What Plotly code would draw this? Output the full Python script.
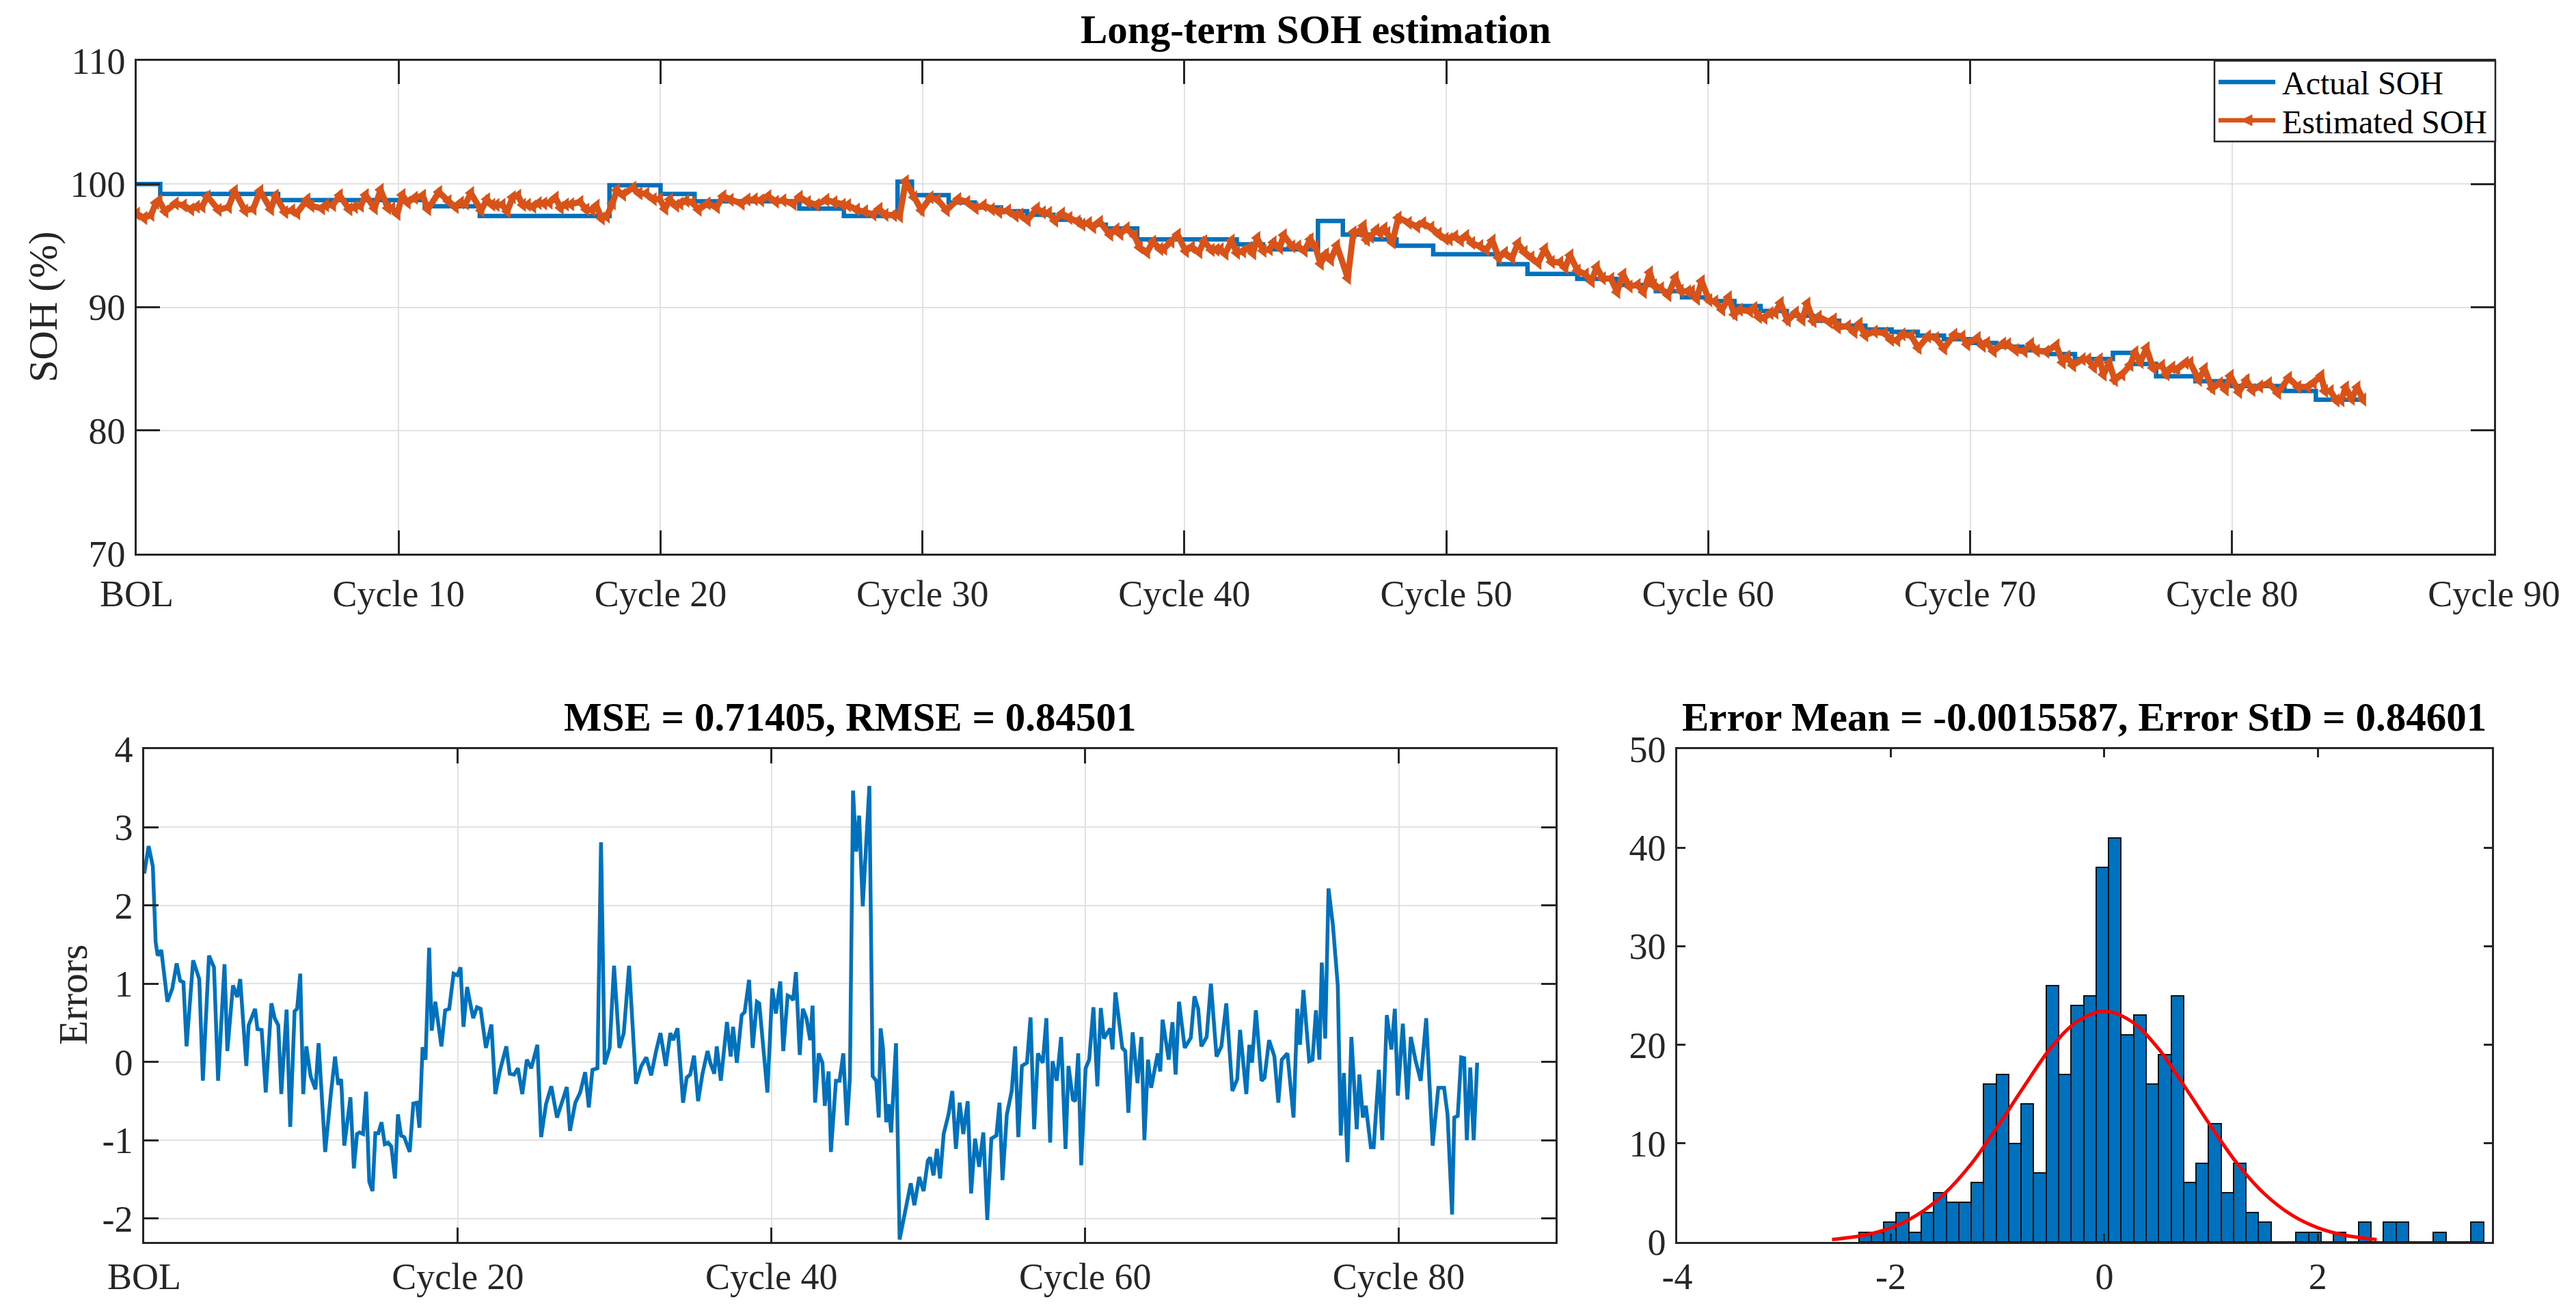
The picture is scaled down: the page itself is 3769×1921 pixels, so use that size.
import numpy as np
import plotly.graph_objects as go

# ---------------- data ----------------
# Prediction error (actual - estimated), x in cycles
err_cycle = [0.00, 0.28, 0.55, 0.73, 0.86, 1.09, 1.48, 1.79, 2.07, 2.29, 2.50, 2.70, 3.12, 3.51, 3.74, 4.13, 4.45, 4.71,
             5.12, 5.30, 5.66, 5.93, 6.12, 6.51, 6.66, 7.07, 7.22, 7.49, 7.75, 8.11, 8.32, 8.55, 8.74, 9.08, 9.31, 9.59,
             9.75, 9.95, 10.14, 10.34, 10.61, 10.92, 11.12, 11.54, 11.90, 12.17, 12.37, 12.56, 12.76, 13.15, 13.37,
             13.57, 13.73, 13.96, 14.15, 14.35, 14.56, 14.74, 14.93, 15.13, 15.34, 15.55, 15.76, 15.99, 16.18, 16.38,
             16.58, 16.93, 17.16, 17.39, 17.55, 17.75, 17.94, 18.17, 18.33, 18.56, 18.95, 19.19, 19.45, 19.73, 19.97,
             20.17, 20.36, 20.59, 20.75, 20.98, 21.22, 21.45, 21.79, 22.14, 22.39, 22.67,
             23.09, 23.31, 23.59, 23.83, 24.11, 24.40, 24.68, 25.07, 25.31, 25.62, 25.96, 26.32, 26.63, 26.95, 27.15,
             27.49, 27.80, 28.12, 28.35, 28.58, 28.90, 29.13, 29.36, 29.68, 29.96, 30.30, 30.58, 30.92, 31.36, 31.70,
             32.02, 32.33, 32.64, 32.92, 33.26, 33.55, 33.73, 34.01, 34.36, 34.59, 34.82, 35.06, 35.32, 35.60, 35.92,
             36.10, 36.35, 36.51, 36.77, 37.16, 37.40, 37.55, 37.79, 38.10, 38.29, 38.57, 38.80, 39.07, 39.22, 39.50,
             39.74, 40.05, 40.28, 40.56, 40.75, 41.03, 41.22, 41.38, 41.56, 41.80, 42.00, 42.23, 42.47, 42.62, 42.78,
             43.01, 43.25, 43.40, 43.64, 43.79, 44.11, 44.34, 44.58, 44.81, 45.00, 45.20, 45.40, 45.59, 45.82, 46.24,
             46.45, 46.68, 46.84, 46.96,
             47.11, 47.32, 47.47, 47.63, 47.74, 47.94, 48.17, 48.56, 48.88, 49.11, 49.42, 49.70, 49.97, 50.12, 50.33,
             50.55, 50.75, 50.98, 51.29, 51.53, 51.76, 52.00, 52.23, 52.51, 52.73, 52.98, 53.24, 53.51, 53.76, 54.02,
             54.34, 54.54, 54.73, 55.01, 55.32, 55.54, 55.74, 55.97, 56.29, 56.52, 56.75, 56.99, 57.30, 57.53, 57.77,
             57.92, 58.19, 58.47, 58.75, 58.94, 59.22, 59.37, 59.56, 59.75, 60.03, 60.26, 60.53, 60.78, 61.00, 61.20,
             61.59, 61.75, 61.93, 62.14, 62.37, 62.56, 62.76, 63.03, 63.34, 63.59, 63.78, 64.01, 64.21, 64.63, 64.79,
             64.94, 65.33, 65.57, 65.77, 65.99, 66.35, 66.74, 66.97, 67.21, 67.41, 67.75, 68.02, 68.38, 68.69, 69.00,
             69.39, 69.70,
             69.88, 70.28, 70.47, 70.64, 70.89, 71.25, 71.44, 71.73, 72.07, 72.32, 72.54, 72.90, 73.29, 73.53, 73.70,
             73.92, 74.29, 74.50, 74.72, 74.94, 75.09, 75.31, 75.52, 75.80, 76.11, 76.30, 76.50, 76.73, 76.98, 77.32,
             77.49, 77.71, 77.90, 78.22, 78.40, 78.73, 78.95, 79.24, 79.53, 79.75, 79.94, 80.26, 80.55, 80.77, 81.06,
             81.40, 81.75, 82.16, 82.52, 82.89, 83.11, 83.40, 83.54, 83.76, 83.98, 84.17, 84.34, 84.56, 84.78, 85.00]

err_value = [2.41, 2.76, 2.50, 1.53, 1.36, 1.43, 0.77, 0.94, 1.26, 1.04, 1.02, 0.20, 1.30, 1.06, -0.24, 1.36, 1.21, -0.24,
             1.25, 0.14, 0.98, 0.83, 1.06, -0.05, 0.47, 0.68, 0.42, 0.41, -0.39, 0.75, 0.56, 0.47, -0.41, 0.67, -0.83, 0.65,
             0.68, 1.13, -0.41, 0.20, -0.18, -0.35, 0.24, -1.15, -0.41, 0.07, -0.29, -0.22, -1.07, -0.45, -1.36,
             -0.92, -0.90, -0.92, -0.38, -1.53, -1.65, -0.91, -0.91, -0.77, -1.05, -1.03, -1.08, -1.49, -0.67, -0.94,
             -0.96, -1.15, -0.53, -0.52, -0.84, 0.19, 0.03, 1.46, 0.40, 0.77, 0.20, 0.66, 0.68, 1.13, 1.11,
             1.21, 0.45, 0.96, 0.79, 0.56, 0.70, 0.68, 0.18, 0.48, -0.41, -0.12,
             0.20, -0.15, -0.16, -0.08, -0.41, 0.03, -0.08, 0.22, -0.96, -0.54, -0.31, -0.71, -0.52, -0.32, -0.88,
             -0.52, -0.39, -0.13, -0.58, -0.10, -0.08, 2.81, -0.03, 0.18, 1.23, 0.18, 0.37, 1.23, -0.28, -0.05,
             0.06, -0.17, 0.14, 0.37, -0.05, 0.37, 0.28, 0.43, -0.52, -0.20, -0.16, 0.08, -0.50, -0.15, 0.14,
             -0.01, -0.15, 0.20, -0.24, 0.51, 0.07, 0.45, -0.01, 0.60, 0.64, 1.05, 0.18, 0.77, 0.75, 0.18,
             -0.39, 0.94, 0.62, 1.03, 0.14, 0.85, 0.83, 0.79, 1.15, 0.09, 0.68, 0.56, 0.28, 0.72, -0.52,
             0.11, -0.01, -0.56, -0.12, -1.15, -0.24, -0.24, 0.11, -0.81, -0.20, 3.47, 2.69, 3.15, 1.99, 3.53,
             -0.18, -0.24, -0.71, 0.43,
             0.18, -0.77, -0.54, -0.90, -0.54, 0.24, -2.27, -1.85, -1.55, -1.83, -1.47, -1.65, -1.26, -1.22, -1.45,
             -1.11, -1.49, -0.92, -0.67, -0.37, -1.11, -0.52, -0.92, -0.50, -1.68, -0.98, -1.34, -0.90, -2.02, -0.98,
             -0.94, -0.52, -1.51, -0.67, -0.37, 0.20, -0.96, -0.05, -0.01, 0.57, -0.86, 0.11, -0.01, 0.56, -1.03,
             0.01, -0.24, 0.32, -1.11, -0.05, -0.48, -0.50, 0.11, -1.32, -0.08, 0.03, 0.70, -0.31, 0.69, 0.30,
             0.43, 0.16, 0.89, 0.56, 0.18, 0.14, -0.65, 0.38, -0.27, 0.32, -1.00, 0.03, -0.33, 0.11, -0.12,
             0.54, 0.03, 0.51, -0.16, 0.77, 0.18, 0.31, 0.84, 0.68, 0.20, 0.32, 1.00, 0.07, 0.20, 0.75,
             -0.37, -0.22,
             0.41, -0.41, 0.22, -0.01, 0.66, -0.24, -0.20, 0.28, 0.07, -0.52, 0.03, 0.11, -0.71, 0.68, 0.22,
             0.92, 0.01, 0.03, 0.66, 0.03, 1.27, 0.30, 2.22, 1.75, 0.98, -0.94, -0.14, -1.28, 0.32, -0.86,
             -0.16, -0.71, -0.56, -1.09, -1.09, -0.10, -1.00, 0.60, 0.16, 0.68, -0.43, 0.49, -0.48, 0.32, 0.03,
             -0.24, 0.56, -1.07, -0.33, -0.33, -0.67, -1.95, -0.71, -0.69, 0.06, 0.05, -1.00, -0.07, -1.00, -0.01]

# Actual SOH: step levels and the cycle at which each level starts
act_start = [0.0, 0.9, 5.4, 11.0, 13.1, 18.05, 20.0, 21.3, 25.3, 27.0, 29.05, 29.6, 31.0, 32.0, 33.0, 34.0, 35.0,
             36.0, 37.0, 38.2, 42.0, 43.0, 45.1, 46.05, 47.2, 48.1, 49.5, 52.0, 53.1, 55.0, 56.5, 58.0, 59.0, 60.0,
             61.0, 62.0, 63.0, 64.0, 65.0, 66.0, 67.0, 68.0, 69.0, 70.0, 71.0, 72.0, 73.0, 74.0, 75.45, 76.2, 77.1,
             78.6, 80.0, 82.0, 83.2]
act_level = [100.0, 99.2, 98.7, 98.2, 97.4, 99.9, 99.2, 98.6, 98.0, 97.4, 100.2, 99.1, 98.5, 98.1, 97.8, 97.5, 97.1,
             96.7, 96.4, 95.5, 95.1, 94.7, 97.0, 95.9, 95.5, 95.0, 94.3, 93.5, 92.7, 92.3, 91.8, 91.3, 90.8, 90.5,
             90.1, 89.7, 89.3, 88.9, 88.5, 88.2, 88.0, 87.7, 87.4, 87.1, 86.8, 86.5, 86.2, 85.8, 86.3, 85.4, 84.4,
             84.0, 83.6, 83.2, 82.5]
act_end_cycle = 85.0

# Histogram of errors (50 bins)
hist_first_edge = -2.30
hist_bin_width = 0.117
hist_counts = [1, 1, 2, 3, 1, 3, 5, 4, 4, 6, 16, 17, 10, 14, 7, 26, 17, 24, 25, 38, 41, 21, 23, 16, 19,
               25, 6, 8, 12, 5, 8, 3, 2, 0, 0, 1, 1, 0, 1, 0, 2, 0, 2, 2, 0, 0, 1, 0, 0, 2]

# Fitted normal curve
fit_x = [-2.55, -2.25, -2.0, -1.75, -1.5, -1.25, -1.0, -0.75, -0.5, -0.25, 0.0,
         0.25, 0.5, 0.75, 1.0, 1.25, 1.5, 1.75, 2.0, 2.25, 2.55]
fit_y = [0.25, 0.68, 1.43, 2.76, 4.87, 7.87, 11.7, 15.8, 19.7, 22.4, 23.4,
         22.4, 19.7, 15.8, 11.7, 7.87, 4.87, 2.76, 1.43, 0.68, 0.25]

top_tickvals = [0, 10, 20, 30, 40, 50, 60, 70, 80, 90]
top_ticktext = ["BOL", "Cycle 10", "Cycle 20", "Cycle 30", "Cycle 40", "Cycle 50",
                "Cycle 60", "Cycle 70", "Cycle 80", "Cycle 90"]
err_tickvals = [0, 20, 40, 60, 80]
err_ticktext = ["BOL", "Cycle 20", "Cycle 40", "Cycle 60", "Cycle 80"]
err_ytickvals = [-2, -1, 0, 1, 2, 3, 4]
err_yticktext = ["-2", "-1", "0", "1", "2", "3", "4"]
hist_xtickvals = [-4, -2, 0, 2]
hist_xticktext = ["-4", "-2", "0", "2"]

legend_names = ["Actual SOH", "Estimated SOH"]
title_top = "Long-term SOH estimation"
title_err = "MSE = 0.71405, RMSE = 0.84501"
title_hist = "Error Mean = -0.0015587, Error StD = 0.84601"

# ---------------- derived series ----------------
err_c = np.array(err_cycle)
err_v = np.array(err_value)
idx = np.searchsorted(np.array(act_start), err_c, side="right") - 1
act_at_err = np.array(act_level)[idx]
est_soh = act_at_err - err_v

act_x = list(act_start) + [act_end_cycle]
act_y = list(act_level) + [act_level[-1]]

centers = hist_first_edge + hist_bin_width * (np.arange(len(hist_counts)) + 0.5)

# ---------------- figure ----------------
W, H = 3769, 1921
FONT = "Liberation Serif"
BLUE = "#0072BD"
ORANGE = "#D95319"
AX = "#262626"
GRID = "#e2e2e2"


def px(xp):
    return xp / W


def py(yp):
    return 1 - yp / H


fig = go.Figure()

fig.add_trace(go.Scatter(x=act_x, y=act_y, mode="lines", line=dict(color=BLUE, width=6.5, shape="hv"),
                         name=legend_names[0], showlegend=False, xaxis="x", yaxis="y"))
fig.add_trace(go.Scatter(x=err_c, y=est_soh, mode="lines+markers",
                         line=dict(color=ORANGE, width=9),
                         marker=dict(symbol="triangle-left", size=18, color=ORANGE, line=dict(width=0)),
                         name=legend_names[1], showlegend=False, xaxis="x", yaxis="y"))

fig.add_trace(go.Scatter(x=err_c, y=err_v, mode="lines", line=dict(color=BLUE, width=5.5),
                         showlegend=False, xaxis="x2", yaxis="y2"))

fig.add_trace(go.Bar(x=centers, y=hist_counts, width=hist_bin_width,
                     marker=dict(color=BLUE, line=dict(color="#111111", width=2)),
                     showlegend=False, xaxis="x3", yaxis="y3"))
fig.add_trace(go.Scatter(x=fit_x, y=fit_y, mode="lines", line=dict(color="#FF0000", width=5, shape="spline"),
                         showlegend=False, xaxis="x3", yaxis="y3"))

common = dict(showline=True, linecolor=AX, linewidth=2.5, mirror="allticks", ticks="inside",
              tickcolor=AX, tickwidth=2.5, zeroline=False, automargin=False,
              tickfont=dict(family=FONT, size=54, color=AX))

top_dom_x = [px(200), px(3649)]
top_dom_y = [py(810), py(89)]
bl_dom_x = [px(211), px(2276)]
bot_dom_y = [py(1817), py(1096)]
h_dom_x = [px(2454), px(3646)]

fig.update_layout(
    width=W, height=H, margin=dict(l=0, r=0, t=0, b=0, pad=0, autoexpand=False),
    paper_bgcolor="white", plot_bgcolor="white",
    showlegend=False,
    bargap=0,
    xaxis=dict(domain=top_dom_x, anchor="y", range=[0, 90], tickvals=top_tickvals, ticktext=top_ticktext,
               ticklen=34, showgrid=True, gridcolor=GRID, gridwidth=2, ticklabelstandoff=9, **common),
    yaxis=dict(domain=top_dom_y, anchor="x", range=[70, 110], tickvals=[70, 80, 90, 100, 110],
               ticklen=34, showgrid=True, gridcolor=GRID, gridwidth=2, ticklabelstandoff=3, **common),
    xaxis2=dict(domain=bl_dom_x, anchor="y2", range=[0, 90], tickvals=err_tickvals, ticktext=err_ticktext,
                ticklen=21, showgrid=True, gridcolor=GRID, gridwidth=2, ticklabelstandoff=1, **common),
    yaxis2=dict(domain=bot_dom_y, anchor="x2", range=[-2.3, 4], tickvals=err_ytickvals, ticktext=err_yticktext,
                ticklen=21, showgrid=True, gridcolor=GRID, gridwidth=2, ticklabelstandoff=3, **common),
    xaxis3=dict(domain=h_dom_x, anchor="y3", range=[-4, 3.63], tickvals=hist_xtickvals, ticktext=hist_xticktext,
                ticklen=12, showgrid=False, ticklabelstandoff=1, **common),
    yaxis3=dict(domain=bot_dom_y, anchor="x3", range=[0, 50], tickvals=[0, 10, 20, 30, 40, 50],
                ticklen=12, showgrid=False, ticklabelstandoff=3, **common),
)

# ---- legend box (drawn like MATLAB's legend) ----
fig.add_shape(type="rect", xref="paper", yref="paper", x0=px(3240), x1=px(3651), y0=py(207), y1=py(89),
              fillcolor="white", line=dict(color=AX, width=2.5), layer="above")
fig.add_shape(type="line", xref="paper", yref="paper", x0=px(3246), x1=px(3329), y0=py(120), y1=py(120),
              line=dict(color=BLUE, width=6.5), layer="above")
fig.add_shape(type="line", xref="paper", yref="paper", x0=px(3246), x1=px(3329), y0=py(176), y1=py(176),
              line=dict(color=ORANGE, width=6.5), layer="above")
tri = "M {:.6f} {:.6f} L {:.6f} {:.6f} L {:.6f} {:.6f} Z".format(px(3279), py(176), px(3295), py(168),
                                                                  px(3295), py(184))
fig.add_shape(type="path", xref="paper", yref="paper", path=tri, fillcolor=ORANGE,
              line=dict(color=ORANGE, width=1), layer="above")
leg_font = dict(family=FONT, size=48, color="#000000")
fig.add_annotation(text=legend_names[0], x=px(3337), y=py(121), xref="paper", yref="paper",
                   xanchor="left", yanchor="middle", showarrow=False, font=leg_font)
fig.add_annotation(text=legend_names[1], x=px(3337), y=py(178), xref="paper", yref="paper",
                   xanchor="left", yanchor="middle", showarrow=False, font=leg_font)

ann_font = dict(family=FONT, size=59, color="#000000")
fig.add_annotation(text="<b>" + title_top + "</b>", x=(top_dom_x[0] + top_dom_x[1]) / 2, y=py(43),
                   xref="paper", yref="paper", xanchor="center", yanchor="middle", showarrow=False, font=ann_font)
fig.add_annotation(text="<b>" + title_err + "</b>", x=(bl_dom_x[0] + bl_dom_x[1]) / 2, y=py(1049),
                   xref="paper", yref="paper", xanchor="center", yanchor="middle", showarrow=False, font=ann_font)
fig.add_annotation(text="<b>" + title_hist + "</b>", x=(h_dom_x[0] + h_dom_x[1]) / 2, y=py(1049),
                   xref="paper", yref="paper", xanchor="center", yanchor="middle", showarrow=False, font=ann_font)
fig.add_annotation(text="SOH (%)", x=px(62), y=py(449.5), xref="paper", yref="paper", textangle=-90,
                   xanchor="center", yanchor="middle", showarrow=False, font=dict(family=FONT, size=59, color=AX))
fig.add_annotation(text="Errors", x=px(107), y=py(1456), xref="paper", yref="paper", textangle=-90,
                   xanchor="center", yanchor="middle", showarrow=False, font=dict(family=FONT, size=59, color=AX))

fig.write_html("out.html", config={"displayModeBar": False},
               post_script="document.body.style.margin='0px';document.body.style.overflow='hidden';")
